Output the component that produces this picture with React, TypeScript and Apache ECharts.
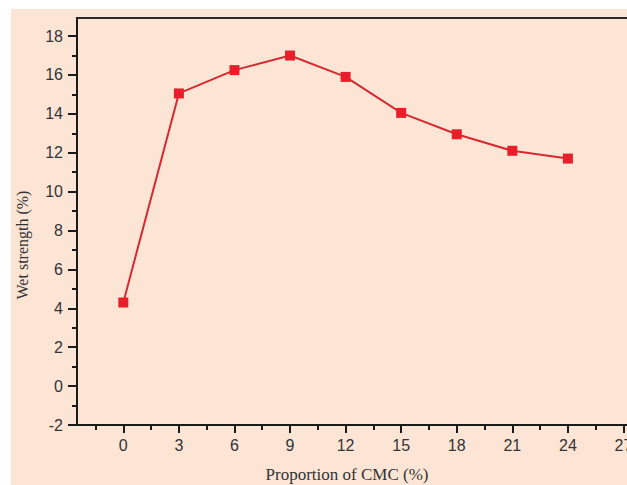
import React, { useEffect, useRef } from "react";
import * as echarts from "echarts";

const proportions = [0, 3, 6, 9, 12, 15, 18, 21, 24];
const wetStrength = [4.3, 15.05, 16.25, 17.0, 15.9, 14.05, 12.95, 12.1, 11.7];
const xMajorTicks = [0, 3, 6, 9, 12, 15, 18, 21, 24, 27];
const xMinorTicks = [-1.5, 1.5, 4.5, 7.5, 10.5, 13.5, 16.5, 19.5, 22.5, 25.5];
const yMajorTicks = [-2, 0, 2, 4, 6, 8, 10, 12, 14, 16, 18];
const yMinorTicks = [-1, 1, 3, 5, 7, 9, 11, 13, 15, 17];

export default function App() {
  const ref = useRef<HTMLDivElement>(null);
  useEffect(() => {
    if (!ref.current) return;
    const chart = echarts.init(ref.current, null, { renderer: "svg" });
    const xMin = -2.5, xMax = 28, yMin = -2, yMax = 18.93;
    const axisColor = "#1a1a1a";
    const labelStyle = { color: "#333", fontFamily: "Liberation Sans, Arial, sans-serif", fontSize: 16 };
    chart.setOption({
      animation: false,
      backgroundColor: "transparent",
      grid: { left: 77, top: 18, right: 18, bottom: 60, show: true, borderColor: "#2a2a2a", borderWidth: 2, backgroundColor: "transparent", containLabel: false },
      xAxis: [
        {
          type: "value", min: xMin, max: xMax, position: "bottom",
          axisLine: { show: true, onZero: false, lineStyle: { color: axisColor, width: 2 } },
          axisTick: { show: true, inside: false, length: 8, customValues: xMajorTicks, lineStyle: { color: axisColor, width: 2 } },
          axisLabel: { show: true, margin: 12, customValues: xMajorTicks, ...labelStyle },
          splitLine: { show: false },
        },
        {
          type: "value", min: xMin, max: xMax, position: "bottom",
          axisLine: { show: false, onZero: false },
          axisTick: { show: true, inside: false, length: 5, customValues: xMinorTicks, lineStyle: { color: axisColor, width: 2 } },
          axisLabel: { show: false },
          splitLine: { show: false },
        },
      ],
      yAxis: [
        {
          type: "value", min: yMin, max: yMax, position: "left",
          axisLine: { show: true, onZero: false, lineStyle: { color: axisColor, width: 2 } },
          axisTick: { show: true, inside: false, length: 9, customValues: yMajorTicks, lineStyle: { color: axisColor, width: 2 } },
          axisLabel: { show: true, margin: 14, customValues: yMajorTicks, ...labelStyle },
          splitLine: { show: false },
        },
        {
          type: "value", min: yMin, max: yMax, position: "left",
          axisLine: { show: false, onZero: false },
          axisTick: { show: true, inside: false, length: 5, customValues: yMinorTicks, lineStyle: { color: axisColor, width: 2 } },
          axisLabel: { show: false },
          splitLine: { show: false },
        },
      ],
      graphic: [
        {
          type: "text", x: 22, y: 245, rotation: Math.PI / 2,
          style: { text: "Wet strength (%)", fill: "#333", font: "16px 'Liberation Serif', serif", textAlign: "center", textVerticalAlign: "middle" },
        },
        {
          type: "text", x: 347, y: 474,
          style: { text: "Proportion of CMC (%)", fill: "#333", font: "17px 'Liberation Serif', serif", textAlign: "center", textVerticalAlign: "middle" },
        },
      ],
      series: [
        {
          type: "line", xAxisIndex: 0, yAxisIndex: 0,
          data: proportions.map((p, i) => [p, wetStrength[i]]),
          symbol: "rect", symbolSize: 10,
          itemStyle: { color: "#e81f2a" },
          lineStyle: { color: "#d62a30", width: 2 },
        },
      ],
    });
    return () => chart.dispose();
  }, []);
  return (
    <div style={{ position: "fixed", left: 0, top: 0, width: 627, height: 485, background: "#ffffff", overflow: "hidden" }}>
      <div style={{ position: "absolute", left: 11, top: 9, width: 616, height: 476, background: "#fde5d6" }} />
      <div ref={ref} style={{ position: "absolute", left: 0, top: 0, width: 660, height: 485 }} />
    </div>
  );
}
